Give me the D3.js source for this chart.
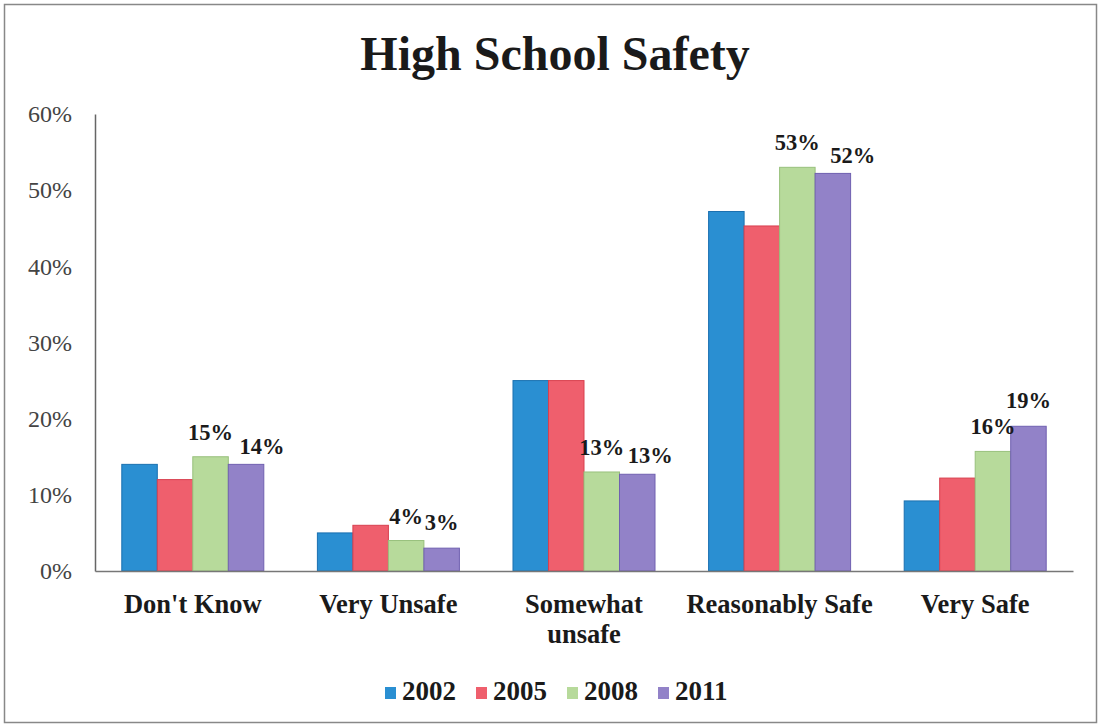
<!DOCTYPE html>
<html><head><meta charset="utf-8">
<script src="https://cdn.jsdelivr.net/npm/d3@7"></script>
<style>html,body{margin:0;padding:0;background:#fff}</style>
</head><body>
<svg id="chart" width="1101" height="728"></svg>
<script>
const categories = ["Don't Know", "Very Unsafe", "Somewhat unsafe", "Reasonably Safe", "Very Safe"];
const seriesNames = ["2002", "2005", "2008", "2011"];
const values2002 = [14, 5, 25, 47.2, 9.2];
const values2005 = [12, 6, 25, 45.3, 12.2];
const values2008 = [15, 4, 13, 53, 15.7];
const values2011 = [14, 3, 12.7, 52.2, 19];
const yTicks = [0, 10, 20, 30, 40, 50, 60];
const labeledSeries = ["2008", "2011"];

const colors = ["#2a8fd2", "#ef5f6d", "#b7da9b", "#9282c8"];
const strokes = ["#1a70b0", "#d8404f", "#98c07c", "#7060b0"];
// label nudges for 2011 labels (dx, dy above bar top)
const nudge2011 = [[16, -10], [0, -18], [13, -11], [20, -10], [0, -18]];

const series = [values2002, values2005, values2008, values2011];
const svg = d3.select("#chart");
const W = 1101, H = 728;
const m = {left: 95, right: 28, top: 114, bottom: 157};

svg.append("rect").attr("x", 4.5).attr("y", 4.5).attr("width", W - 9).attr("height", H - 10)
  .attr("fill", "#fff").attr("stroke", "#888").attr("stroke-width", 1.5);

svg.append("text").attr("x", 555).attr("y", 70).attr("text-anchor", "middle")
  .attr("font-family", "Liberation Serif").attr("font-weight", "bold").attr("font-size", 48)
  .attr("fill", "#1a1a1a").text("High School Safety");

const x0 = d3.scaleBand().domain(categories).range([m.left, W - m.right]);
const x1 = d3.scaleBand().domain(seriesNames)
  .range([x0.bandwidth() * 0.137, x0.bandwidth() * 0.863]);
const y = d3.scaleLinear().domain([0, 60]).range([H - m.bottom, m.top]);

// y axis
const yAxis = d3.axisLeft(y).tickValues(yTicks).tickSize(0).tickPadding(23)
  .tickFormat(d => d + "%");
const gy = svg.append("g").attr("transform", `translate(${m.left},0)`).call(yAxis);
gy.select(".domain").attr("stroke", "#666").attr("stroke-width", 1.5);
gy.selectAll("text").attr("font-family", "Liberation Serif").attr("font-size", 24).attr("fill", "#444");

// bars
const g = svg.append("g");
categories.forEach((c, ci) => {
  seriesNames.forEach((s, si) => {
    const v = series[si][ci];
    g.append("rect")
      .attr("x", x0(c) + x1(s)).attr("y", y(v))
      .attr("width", x1.bandwidth()).attr("height", y(0) - y(v))
      .attr("fill", colors[si]).attr("stroke", strokes[si]).attr("stroke-width", 1);
  });
});

// x axis line
const xAxis = d3.axisBottom(x0).tickSize(0).tickFormat("");
const gx = svg.append("g").attr("transform", `translate(0,${y(0)})`).call(xAxis);
gx.select(".domain").attr("stroke", "#777").attr("stroke-width", 1.5);

// category labels
categories.forEach(c => {
  const words = c === "Somewhat unsafe" ? ["Somewhat", "unsafe"] : [c];
  words.forEach((w, i) => {
    svg.append("text").attr("x", x0(c) + x0.bandwidth() / 2).attr("y", 613 + i * 30)
      .attr("text-anchor", "middle").attr("font-family", "Liberation Serif")
      .attr("font-weight", "bold").attr("font-size", 26.5).attr("fill", "#1a1a1a").text(w);
  });
});

// data labels
labeledSeries.forEach(s => {
  const si = seriesNames.indexOf(s);
  categories.forEach((c, ci) => {
    const v = series[si][ci];
    const nd = s === "2011" ? nudge2011[ci] : [0, -17];
    svg.append("text").attr("x", x0(c) + x1(s) + x1.bandwidth() / 2 + nd[0]).attr("y", y(v) + nd[1])
      .attr("text-anchor", "middle").attr("font-family", "Liberation Serif")
      .attr("font-weight", "bold").attr("font-size", 22.5).attr("fill", "#1a1a1a")
      .text(Math.round(v) + "%");
  });
});

// legend
let lx = 385;
seriesNames.forEach((s, i) => {
  const lg = svg.append("g").attr("transform", `translate(${lx},687)`);
  lg.append("rect").attr("width", 11).attr("height", 12).attr("fill", colors[i]);
  const t = lg.append("text").attr("x", 17).attr("y", 13).attr("font-family", "Liberation Serif")
    .attr("font-weight", "bold").attr("font-size", 27).attr("fill", "#1a1a1a").text(s);
  lx += 17 + t.node().getComputedTextLength() + 20;
});
</script>
</body></html>
